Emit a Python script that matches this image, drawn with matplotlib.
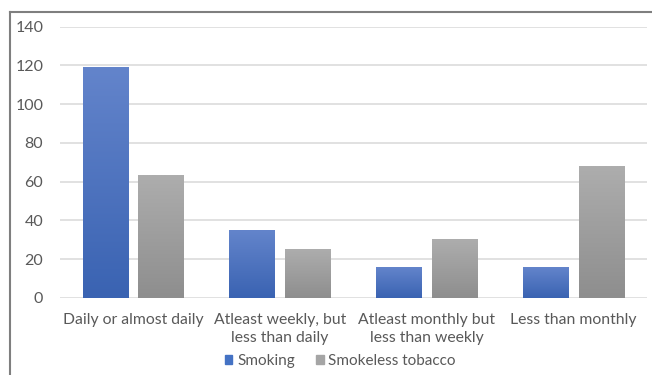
import numpy as np
import matplotlib
matplotlib.use('Agg')
import matplotlib.pyplot as plt
from matplotlib.lines import Line2D
from matplotlib.colors import LinearSegmentedColormap
from matplotlib.patches import Patch

# data
categories = ['Daily or almost daily', 'Atleast weekly, but\nless than daily',
              'Atleast monthly but\nless than weekly', 'Less than monthly']
smoking = [119, 35, 16, 16]
smokeless = [63, 25, 30, 68]
series_names = ['Smoking', 'Smokeless tobacco']
yticks = [0, 20, 40, 60, 80, 100, 120, 140]

plt.rcParams['font.family'] = ['Lato', 'DejaVu Sans']
txt = '#595959'

fig = plt.figure(figsize=(6.52, 3.75), dpi=100)
ax = fig.add_axes([0.092, 0.206, 0.9, 0.723])

x = np.arange(len(categories))
w = 0.31
off = 0.19
b1 = ax.bar(x - off, smoking, w, color='#4472C4', zorder=2)
b2 = ax.bar(x + off, smokeless, w, color='#A5A5A5', zorder=2)

# vertical gradient fill, lighter at top like the excel style
def shade(bars, top, bottom):
    cmap = LinearSegmentedColormap.from_list('g', [bottom, top])
    grad = np.linspace(0, 1, 100).reshape(-1, 1)
    for b in bars:
        b.set_alpha(0)
        ax.imshow(grad, cmap=cmap, aspect='auto', origin='lower', zorder=3,
                  extent=[b.get_x(), b.get_x() + b.get_width(), 0, b.get_height()])

shade(b1, '#6384CB', '#3A63B2')
shade(b2, '#ADADAD', '#8E8E8E')

ax.set_xlim(-0.5, len(categories) - 0.5)
ax.set_ylim(0, 140)
ax.set_yticks(yticks)
ax.set_xticks(x)
ax.set_xticklabels(categories, fontsize=11.3, color=txt, linespacing=1.4)
ax.tick_params(axis='y', labelsize=11.5, labelcolor=txt, length=0, pad=12)
ax.tick_params(axis='x', length=0, pad=11)
ax.grid(axis='y', color='#D9D9D9', linewidth=1.1, zorder=0)
for s in ax.spines.values():
    s.set_visible(False)

handles = [Patch(color='#4472C4'), Patch(color='#A5A5A5')]
fig.legend(handles, series_names, loc='center', bbox_to_anchor=(0.522, 0.037), ncol=2,
           frameon=False, fontsize=11, labelcolor=txt, handlelength=0.5, handleheight=0.5,
           handletextpad=0.3, columnspacing=1.4, borderpad=0)

# border of the original screenshot (left and top only)
fig.add_artist(Line2D([0.016, 0.016], [0, 0.968], color='#7F7F7F', lw=1.5))
fig.add_artist(Line2D([0.016, 1.0], [0.968, 0.968], color='#7F7F7F', lw=1.5))

fig.savefig('out.png', dpi=100)
